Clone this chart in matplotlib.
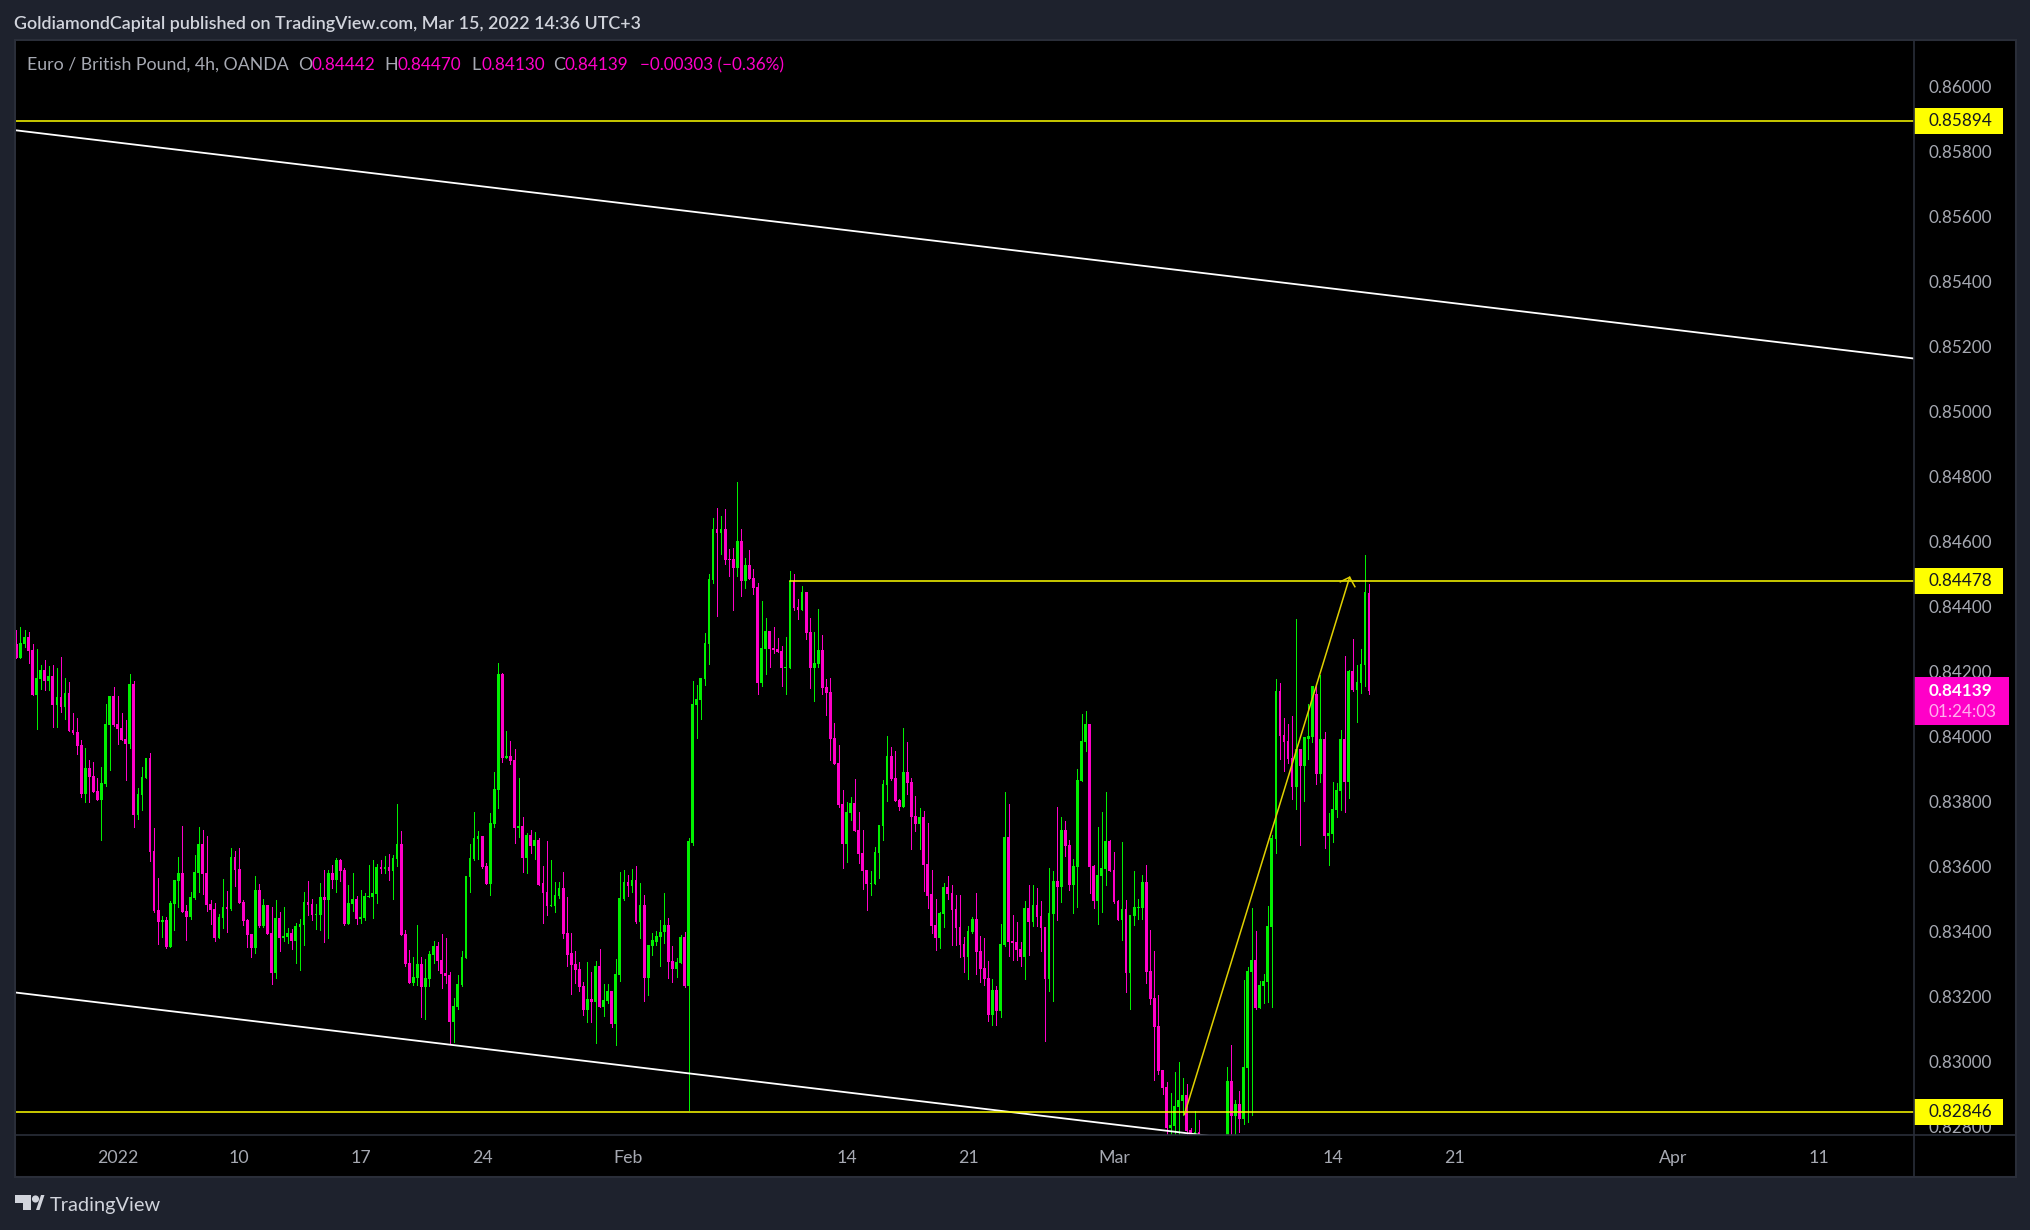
import numpy as np
import matplotlib
matplotlib.use('Agg')
import matplotlib.pyplot as plt
from matplotlib.lines import Line2D
from matplotlib.patches import Circle, Polygon, Rectangle
from matplotlib.transforms import Affine2D

## 1. Data (prices in 1e-5 units)
opens = [
    84286,84242,84286,84307,84267,84129,84178,84206,84172,84187,
    84098,84122,84092,84135,84021,84015,83975,83824,83904,83879,
    83833,83805,83855,84036,84126,84039,84027,83993,83978,84162,
    83759,83821,83873,83935,83648,83467,83430,83436,83353,83485,
    83556,83581,83464,83445,83504,83581,83670,83581,83485,83470,
    83381,83442,83476,83470,83630,83593,83491,83436,83393,83350,
    83528,83418,83482,83396,83273,83442,83381,83384,83396,83371,
    83414,83421,83491,83485,83451,83451,83507,83498,83581,83559,
    83621,83590,83424,83485,83501,83439,83442,83507,83507,83516,
    83599,83593,83599,83587,83624,83670,83393,83304,83242,83258,
    83301,83230,83254,83328,83356,83313,83273,83267,83122,83168,
    83236,83319,83568,83624,83685,83695,83602,83547,83732,83836,
    84193,83935,83941,83929,83719,83725,83627,83698,83664,83682,
    83548,83523,83477,83480,83508,83533,83394,83333,83299,83286,
    83231,83160,83191,83182,83293,83169,83185,83216,83114,83265,
    83499,83551,83539,83557,83428,83483,83256,83354,83369,83382,
    83397,83419,83308,83286,83302,83382,83231,83673,84098,84113,
    84178,84286,84483,84640,84627,84637,84547,84547,84520,84603,
    84480,84529,84489,84461,84166,84270,84326,84273,84270,84264,
    84212,84212,84480,84400,84390,84446,84323,84212,84224,84267,
    84153,84138,83996,83919,83793,83670,83765,83796,83713,83642,
    83590,83547,83547,83642,83725,83852,83941,83873,83805,83784,
    83892,83861,83756,83732,83753,83608,83514,83419,83379,83453,
    83536,83517,83468,83413,83363,83323,83400,83437,83339,83289,
    83256,83142,83219,83154,83359,83692,83372,83369,83347,83322,
    83473,83430,83482,83449,83415,83255,83455,83556,83538,83713,
    83667,83544,83599,83864,83984,84040,83602,83495,83572,83593,
    83679,83590,83495,83436,83470,83273,83449,83473,83473,83553,
    83279,83196,83110,82975,82922,82796,82802,82861,82879,82898,
    82790,82750,82784,82750,82720,82700,82730,82710,82745,82765,
    82941,82833,82870,82824,82981,83276,83313,83165,83233,83245,
    83415,83686,84141,84006,83987,83935,83846,83963,83910,83993,
    84000,84132,83886,83993,83695,83701,83775,83833,83993,83861,
    84203,84144,84166,84221,84442]
highs = [
    84329,84337,84329,84323,84286,84270,84221,84236,84216,84221,
    84212,84246,84181,84169,84073,84058,83990,83965,83929,83922,
    83873,83907,84101,84126,84153,84126,84073,84052,84193,84172,
    83842,83907,83935,83950,83719,83565,83448,83445,83495,83559,
    83630,83725,83482,83522,83636,83722,83713,83695,83498,83488,
    83455,83562,83525,83658,83648,83658,83498,83439,83393,83571,
    83547,83501,83482,83476,83498,83461,83476,83411,83408,83427,
    83439,83522,83556,83501,83485,83550,83590,83590,83605,83627,
    83624,83596,83544,83581,83510,83528,83519,83605,83621,83608,
    83621,83633,83639,83636,83793,83710,83405,83344,83322,83421,
    83322,83316,83341,83371,83368,83393,83381,83276,83196,83267,
    83341,83571,83670,83768,83710,83695,83611,83765,83892,84227,
    84196,84018,83987,83962,83873,83753,83704,83713,83707,83689,
    83603,83680,83619,83551,83551,83582,83505,83394,83339,83305,
    83246,83305,83274,83308,83345,83237,83237,83216,83314,83582,
    83588,83573,83591,83603,83548,83511,83360,83394,83403,83434,
    83517,83443,83354,83320,83388,83397,83687,84172,84159,84181,
    84320,84501,84673,84704,84680,84701,84578,84581,84784,84640,
    84550,84575,84516,84473,84418,84366,84326,84338,84304,84279,
    84307,84510,84501,84424,84464,84446,84366,84323,84393,84313,
    84178,84181,84042,83975,83836,83799,83815,83870,83769,83713,
    83590,83587,83661,83729,83867,84002,83969,83956,83809,84027,
    83984,83873,83818,83781,83772,83735,83588,83499,83459,83548,
    83570,83542,83511,83511,83382,83416,83446,83520,83385,83379,
    83308,83253,83231,83422,83830,83793,83452,83430,83369,83495,
    83544,83544,83535,83495,83415,83596,83587,83784,83753,83741,
    83683,83624,83901,84070,84080,84040,83606,83723,83769,83830,
    83683,83646,83498,83676,83498,83452,83587,83501,83575,83606,
    83405,83341,83205,82975,82938,82904,82968,82999,82950,82931,
    82796,82847,82821,82765,82750,82745,82755,82760,82770,82984,
    83052,82882,82910,83252,83292,83473,83402,83249,83270,83479,
    83698,84178,84166,84058,84040,84064,84363,83963,83997,84101,
    84154,84154,84190,84015,83766,83861,83858,84021,84249,84206,
    84301,84221,84270,84560,84470]
lows = [
    84242,84242,84274,84227,84129,84024,84147,84144,84144,84030,
    84030,84076,84055,84018,84009,83947,83815,83799,83799,83830,
    83805,83682,83848,83898,84033,83978,83990,83867,83965,83722,
    83747,83775,83873,83618,83461,83362,83384,83350,83353,83405,
    83476,83461,83374,83439,83501,83522,83516,83464,83424,83371,
    83381,83411,83399,83467,83541,83488,83421,83353,83322,83334,
    83414,83414,83393,83239,83258,83341,83371,83365,83347,83304,
    83282,83359,83451,83436,83408,83405,83368,83381,83535,83522,
    83556,83421,83424,83464,83424,83427,83436,83507,83442,83488,
    83581,83581,83559,83501,83602,83390,83294,83242,83236,83236,
    83138,83131,83233,83304,83282,83227,83242,83057,83061,83162,
    83233,83319,83522,83621,83624,83596,83547,83513,83722,83781,
    83922,83935,83916,83673,83692,83584,83581,83642,83624,83544,
    83425,83450,83477,83459,83502,83379,83293,83209,83243,83216,
    83142,83123,83123,83056,83169,83139,83179,83105,83052,83249,
    83496,83508,83523,83425,83379,83185,83206,83329,83360,83293,
    83366,83256,83246,83259,83302,83228,82852,83667,83996,84055,
    84159,84224,84473,84372,84563,84532,84495,84390,84495,84433,
    84458,84486,84440,84132,84156,84193,84215,84258,84261,84156,
    84132,84212,84390,84363,84390,84301,84150,84110,84215,84132,
    84067,83929,83916,83784,83596,83615,83744,83710,83611,83531,
    83467,83513,83547,83565,83682,83802,83867,83802,83775,83784,
    83824,83655,83710,83655,83525,83473,83394,83342,83348,83413,
    83499,83357,83360,83323,83274,83253,83394,83268,83246,83234,
    83126,83111,83111,83136,83356,83325,83313,83313,83295,83255,
    83329,83418,83418,83341,83064,83218,83187,83436,83492,83633,
    83529,83458,83476,83864,83956,83519,83473,83424,83461,83544,
    83587,83489,83436,83375,83215,83162,83421,83439,83439,83242,
    83178,82944,82962,82901,82770,82770,82760,82770,82836,82760,
    82740,82730,82730,82700,82680,82670,82690,82700,82720,82740,
    82760,82770,82784,82808,82814,82836,83162,83165,83181,83184,
    83168,83643,83932,83895,83917,83809,83778,83667,83803,83932,
    83984,83855,83861,83658,83606,83676,83753,83775,83769,83812,
    84141,84046,84135,84154,84130]
closes = [
    84242,84289,84307,84264,84129,84181,84206,84172,84187,84098,
    84122,84092,84135,84018,84011,83972,83824,83904,83876,83830,
    83805,83858,84039,84126,84036,84024,83990,83978,84162,83759,
    83824,83876,83935,83645,83464,83430,83436,83353,83488,83559,
    83581,83461,83445,83507,83584,83670,83578,83482,83467,83381,
    83445,83476,83470,83630,83590,83488,83433,83390,83350,83528,
    83418,83482,83393,83273,83442,83381,83387,83396,83371,83418,
    83424,83491,83482,83451,83455,83507,83498,83581,83559,83621,
    83587,83424,83488,83501,83439,83445,83510,83510,83519,83599,
    83593,83599,83587,83627,83670,83390,83301,83242,83261,83301,
    83230,83258,83331,83356,83310,83270,83264,83122,83171,83239,
    83322,83571,83627,83688,83695,83599,83547,83735,83839,84193,
    83935,83941,83925,83719,83725,83627,83698,83664,83682,83544,
    83520,83477,83483,83511,83533,83391,83329,83296,83283,83228,
    83160,83191,83182,83293,83169,83188,83216,83114,83268,83502,
    83551,83539,83557,83428,83483,83256,83357,83373,83385,83400,
    83419,83305,83286,83305,83382,83231,83677,84101,84116,84181,
    84289,84486,84640,84627,84637,84544,84544,84520,84603,84480,
    84529,84486,84458,84166,84273,84326,84270,84267,84261,84212,
    84215,84480,84396,84390,84446,84320,84212,84227,84267,84150,
    84135,83993,83916,83790,83670,83769,83796,83710,83639,83587,
    83547,83550,83645,83729,83855,83941,83870,83802,83784,83892,
    83858,83753,83732,83753,83605,83510,83416,83379,83456,83536,
    83514,83465,83410,83360,83323,83403,83437,83336,83286,83253,
    83142,83219,83154,83363,83692,83369,83365,83344,83322,83473,
    83430,83482,83446,83412,83255,83458,83556,83538,83713,83664,
    83544,83602,83867,83987,84040,83599,83495,83575,83596,83679,
    83587,83492,83436,83470,83273,83452,83476,83476,83553,83276,
    83193,83107,82972,82919,82796,82805,82864,82882,82898,82787,
    82760,82784,82750,82720,82700,82730,82710,82745,82765,82941,
    82833,82870,82824,82984,83279,83313,83165,83236,83249,83418,
    83689,84141,84003,83984,83932,83846,83963,83910,83997,84003,
    84154,83886,83993,83695,83704,83778,83836,83993,83861,84203,
    84144,84169,84224,84446,84139]

price_ticks = [0.828, 0.830, 0.832, 0.834, 0.836, 0.838, 0.840, 0.842, 0.844,
               0.846, 0.848, 0.850, 0.852, 0.854, 0.856, 0.858, 0.860]
date_ticks = [25, 55, 85, 115, 151, 205, 235, 271, 325, 355, 409, 445]
date_labels = ['2022', '10', '17', '24', 'Feb', '14', '21', 'Mar', '14', '21', 'Apr', '11']

upper_channel_x = [0, 468.6]
upper_channel_y = [0.85865, 0.85163]
lower_channel_x = [0, 300]
lower_channel_y = [0.83212, 0.82763]
level_top = 0.85894
level_mid = 0.84478
level_low = 0.82846
level_mid_start = 191
arrow_x = [288.4, 329.2]
arrow_y = [0.82837, 0.84490]
arrow_head_x = [326.9, 329.2, 330.5]
arrow_head_y = [0.84476, 0.84490, 0.84461]

legend_parts = [
    (27.5, 'Euro / British Pound, 4h, OANDA', 'gray'),
    (298, 'O', 'gray'), (312, '0.84442', 'pink'),
    (384, 'H', 'gray'), (398, '0.84470', 'pink'),
    (471, 'L', 'gray'), (481, '0.84130', 'pink'),
    (553, 'C', 'gray'), (565, '0.84139', 'pink'),
    (640, '\u22120.00303 (\u22120.36%)', 'pink'),
]

## 2. Style
W, H = 2031, 1230
BG = '#1e222d'
BORDER = '#2a2e39'
GREEN = '#00f000'
MAGENTA = '#ff00c8'
YELLOW = '#ffff00'
TEXT = '#a6a9b2'
plt.rcParams['font.family'] = ['Lato', 'DejaVu Sans']

fig = plt.figure(figsize=(W / 100, H / 100), dpi=100, facecolor=BG)
px = Affine2D().scale(1 / W, -1 / H).translate(0, 1) + fig.transFigure


def fig_text(x, y, s, **kw):
    kw.setdefault('va', 'center')
    fig.text(x / W, 1 - y / H, s, **kw)


# black panel behind chart and both scales
fig.add_artist(Rectangle((15, 40), 2001, 1137, transform=px, facecolor='black',
                         edgecolor=BORDER, linewidth=1.5, zorder=-1))

ax = fig.add_axes([16 / W, 1 - 1135 / H, 1898 / W, 1094 / H], facecolor='black')
ax.set_xlim(-0.1, 468.56)
ax.set_ylim(0.827739, 0.8614)
for s in ['top', 'left', 'right', 'bottom']:
    ax.spines[s].set_visible(False)

## 3. Candles
o = np.array(opens) / 1e5
h = np.array(highs) / 1e5
l = np.array(lows) / 1e5
c = np.array(closes) / 1e5
x = np.arange(len(o))
colors = np.where(c >= o, GREEN, MAGENTA)
ax.vlines(x, l, h, colors=colors, linewidth=0.5, antialiased=False, zorder=2)
ax.bar(x, np.abs(c - o), bottom=np.minimum(o, c), width=0.68, color=colors,
       linewidth=0, antialiased=False, zorder=3)

## 4. Drawings
ax.plot(upper_channel_x, upper_channel_y, color='white', lw=1.3, zorder=4)
ax.plot(lower_channel_x, lower_channel_y, color='white', lw=1.3, zorder=4)
ax.axhline(level_top, color=YELLOW, lw=1.1, zorder=4)
ax.axhline(level_low, color=YELLOW, lw=1.1, zorder=4)
ax.plot([level_mid_start, 468.56], [level_mid, level_mid], color=YELLOW, lw=1.1, zorder=4)
ax.plot(arrow_x, arrow_y, color='#e0d000', lw=1.1, zorder=5)
ax.plot(arrow_head_x, arrow_head_y, color='#e0d000', lw=1.1, zorder=5)

## 5. Axes ticks
ax.yaxis.tick_right()
ax.set_yticks(price_ticks)
ax.set_yticklabels(['%.5f' % p for p in price_ticks])
ax.set_xticks(date_ticks)
ax.set_xticklabels(date_labels)
ax.tick_params(axis='y', length=0, pad=10.8, labelsize=12.3, labelcolor=TEXT)
ax.tick_params(axis='x', length=0, pad=11, labelsize=12.8, labelcolor=TEXT)

# panel separators
fig.add_artist(Line2D([1914, 1914], [40, 1177], transform=px, color=BORDER, lw=1.2))
fig.add_artist(Line2D([15, 2016], [1135, 1135], transform=px, color=BORDER, lw=1.2))

## 6. Price labels on the scale
trans = ax.get_yaxis_transform()
for level in [level_top, level_mid, level_low]:
    ax.add_patch(Rectangle((1.0, level - 0.0004), 0.0469, 0.0008, transform=trans,
                           facecolor=YELLOW, edgecolor='none', clip_on=False, zorder=6))
    ax.text(1.0079, level, '%.5f' % level, transform=trans, color='#131722', fontsize=12.3,
            va='center', ha='left', clip_on=False, zorder=7)
ax.add_patch(Rectangle((1.0, 0.84034), 0.05, 0.00148, transform=trans, facecolor=MAGENTA,
                       edgecolor='none', clip_on=False, zorder=6))
ax.text(1.0079, 0.84139, '%.5f' % c[-1], transform=trans, color='white', fontsize=12.3,
        fontweight='bold', va='center', ha='left', clip_on=False, zorder=7)
ax.text(1.0079, 0.84074, '01:24:03', transform=trans, color='#ffb0ee', fontsize=12.3,
        va='center', ha='left', clip_on=False, zorder=7)

## 7. Header, legend, footer
fig_text(14, 24, 'GoldiamondCapital published on TradingView.com, Mar 15, 2022 14:36 UTC+3',
         color='#d1d4dc', fontsize=12.9, fontweight='semibold')
legend_colors = {'gray': TEXT, 'pink': MAGENTA}
for lx, s, kind in legend_parts:
    fsize = 12.8 if kind == 'gray' else 12.3
    fig_text(lx, 65, s, color=legend_colors[kind], fontsize=fsize)

logo = '#d1d4dc'
fig.add_artist(Polygon([(15, 1195), (31, 1195), (31, 1210), (23, 1210), (23, 1203), (15, 1203)],
                       closed=True, transform=px, facecolor=logo, edgecolor='none'))
fig.add_artist(Circle((35.5, 1199), 3.6, transform=px, facecolor=logo, edgecolor='none'))
fig.add_artist(Polygon([(36, 1210), (41, 1195), (44.5, 1195), (39.5, 1210)],
                       closed=True, transform=px, facecolor=logo, edgecolor='none'))
fig_text(50, 1205, 'TradingView', color=logo, fontsize=14.4)

fig.savefig('out.png', dpi=100, facecolor=BG)
plt.close()
